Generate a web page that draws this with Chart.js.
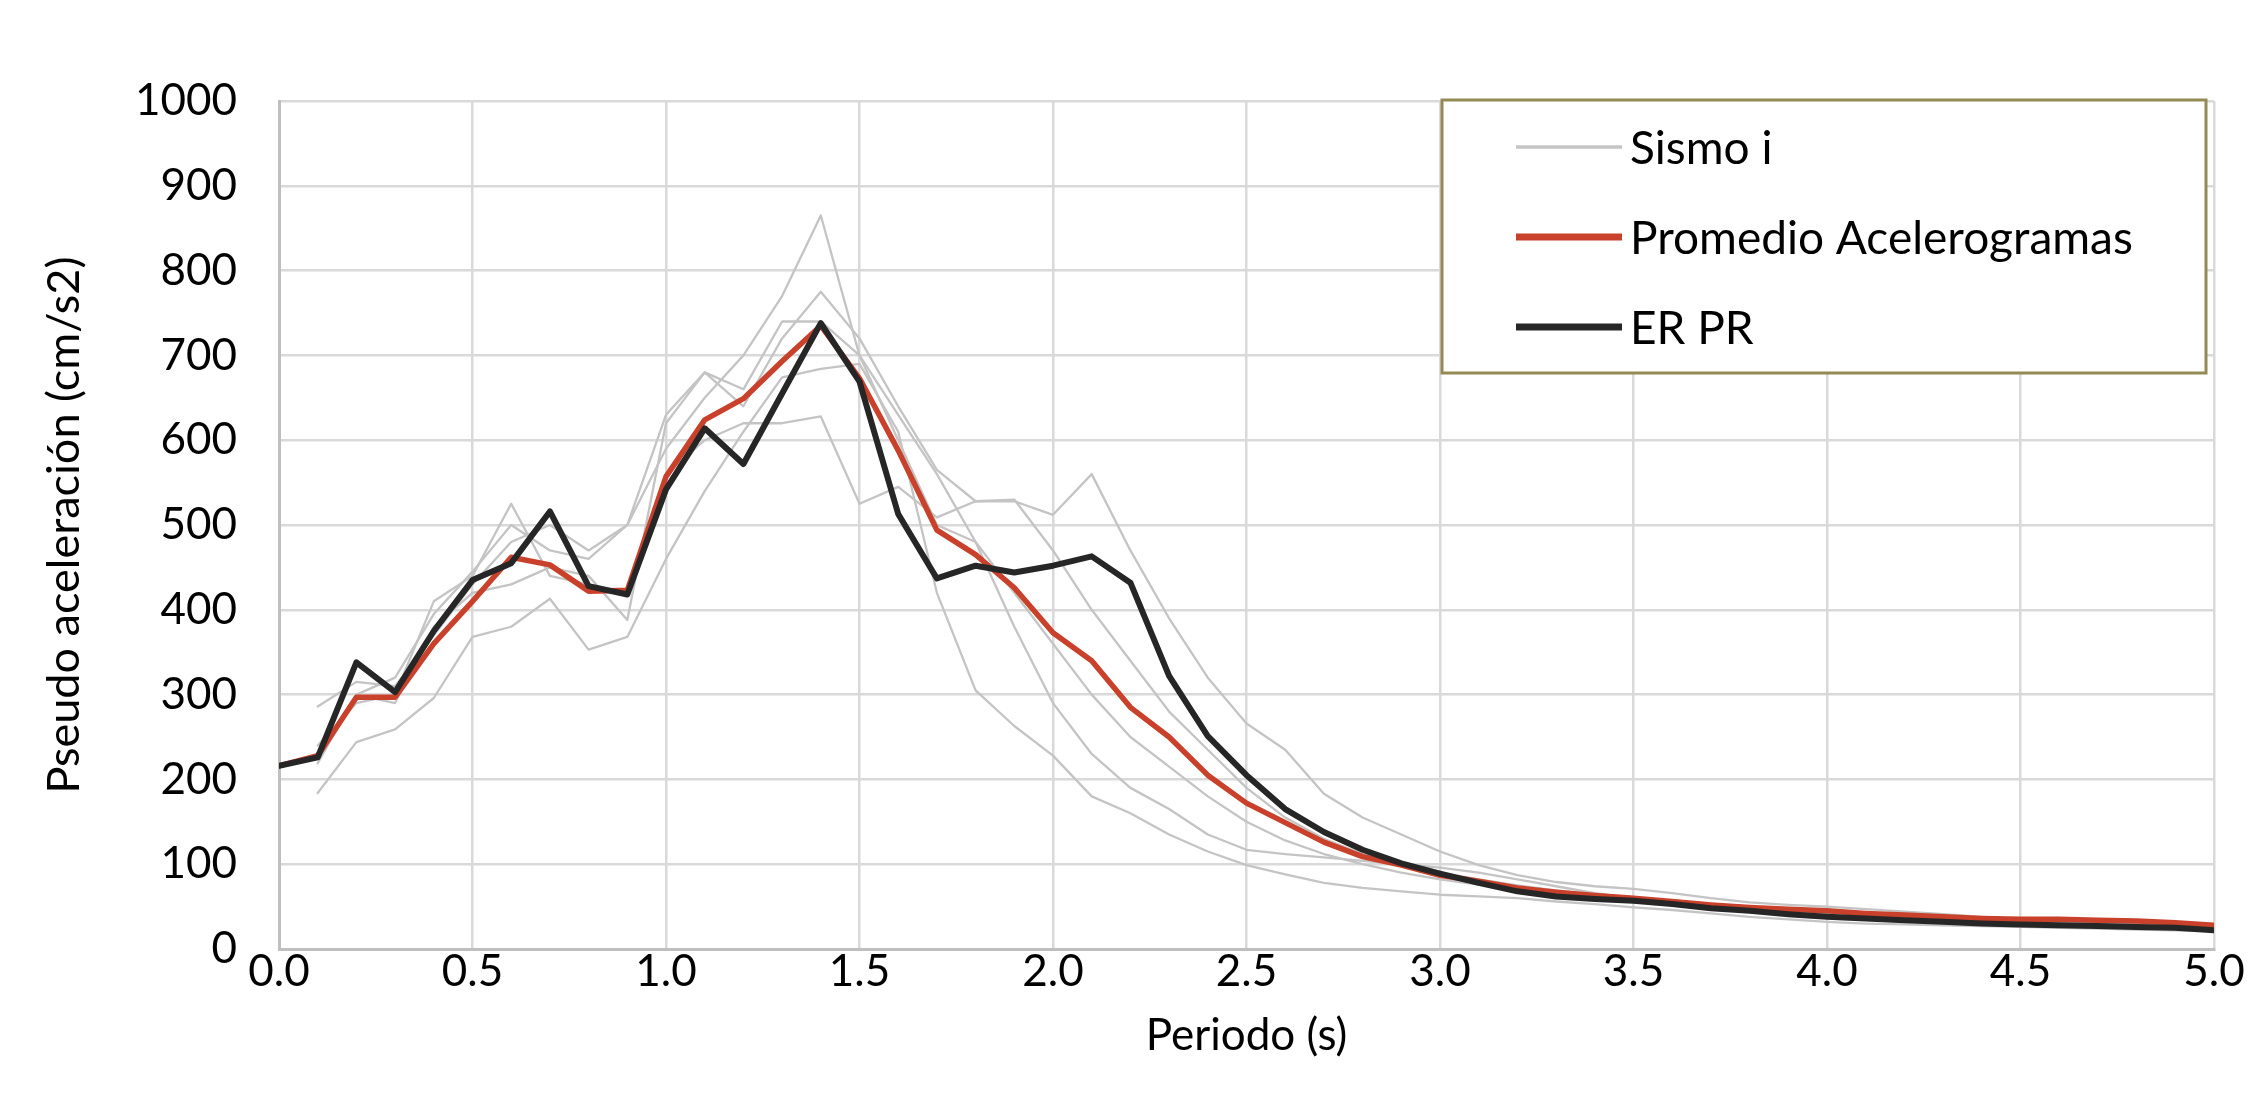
<!DOCTYPE html>
<html>
<head>
<meta charset="utf-8">
<title>Espectros de pseudo aceleración</title>
<script src="https://cdn.jsdelivr.net/npm/chart.js@4.4.1/dist/chart.umd.min.js"></script>
<style>
  html, body { margin: 0; padding: 0; background: #ffffff; }
  canvas { display: block; }
</style>
</head>
<body>
<canvas id="chart" width="2264" height="1119"></canvas>
<script>
// Periodo (s)
const periods = [
  0.0, 0.1, 0.2, 0.3, 0.4, 0.5, 0.6, 0.7, 0.8, 0.9,
  1.0, 1.1, 1.2, 1.3, 1.4, 1.5, 1.6, 1.7, 1.8, 1.9,
  2.0, 2.1, 2.2, 2.3, 2.4, 2.5, 2.6, 2.7, 2.8, 2.9,
  3.0, 3.1, 3.2, 3.3, 3.4, 3.5, 3.6, 3.7, 3.8, 3.9,
  4.0, 4.1, 4.2, 4.3, 4.4, 4.5, 4.6, 4.7, 4.8, 4.9, 5.0
];

// Espectro ER PR (cm/s2)
const erPR = [
  216, 226, 338, 303, 375, 435, 455, 516, 428, 418,
  542, 614, 572, 655, 738, 669, 513, 437, 452, 444,
  452, 463, 432, 322, 251, 205, 165, 138, 117, 101,
  89, 78, 68, 62, 59, 57, 53, 48, 45, 41,
  38, 36, 34, 32, 30, 29, 28, 27, 26, 25, 22
];

// Promedio de los acelerogramas (cm/s2)
const promedio = [
  216, 228, 297, 297, 360, 410, 462, 453, 422, 423,
  557, 624, 649, 693, 735, 673, 588, 494, 465, 426,
  373, 340, 285, 250, 205, 172, 149, 126, 109, 99,
  87, 80, 72, 67, 63, 60, 56, 52, 49, 47,
  45, 42, 40, 38, 36, 35, 35, 34, 33, 31, 28
];

// Espectros de cada sismo (cm/s2)
const sismo1 = [
  null, 225, 300, 320, 395, 445, 500, 470, 460, 500,
  590, 650, 700, 770, 865, 700, 600, 500, 480, 420,
  360, 300, 250, 215, 180, 150, 128, 112, 100, 90,
  82, 76, 70, 66, 62, 59, 55, 51, 48, 45,
  42, 40, 38, 36, 34, 32, 31, 30, 29, 28, 27
];
const sismo2 = [
  null, 286, 315, 310, 370, 430, 480, 500, 470, 500,
  630, 680, 640, 720, 775, 720, 640, 565, 528, 528,
  512, 560, 470, 390, 320, 266, 235, 183, 155, 135,
  115, 99, 87, 79, 74, 71, 66, 60, 55, 52,
  50, 47, 44, 41, 38, 35, 33, 31, 29, 27, 25
];
const sismo3 = [
  null, 240, 290, 300, 410, 440, 525, 440, 430, 420,
  560, 600, 620, 620, 628, 525, 545, 509, 528, 530,
  470, 400, 340, 280, 235, 190, 155, 130, 112, 100,
  90, 82, 75, 69, 64, 60, 56, 52, 49, 46,
  44, 42, 40, 38, 36, 34, 33, 32, 31, 30, 29
];
const sismo4 = [
  null, 184, 244, 259, 296, 368, 380, 413, 353, 368,
  460, 540, 610, 674, 684, 690, 610, 420, 305, 263,
  228, 180, 160, 135, 115, 99, 88, 78, 72, 68,
  64, 62, 60, 56, 53, 49, 46, 42, 38, 35,
  32, 30, 29, 28, 27, 26, 25, 24, 23, 22, 21
];
const sismo5 = [
  null, 219, 300, 290, 380, 420, 430, 450, 440, 388,
  620, 680, 660, 740, 740, 700, 630, 560, 480, 380,
  290, 230, 190, 165, 135, 117, 112, 108, 104, 100,
  96, 90, 82, 74, 66, 60, 55, 51, 48, 45,
  43, 41, 39, 37, 35, 33, 31, 29, 27, 25, 23
];

// Marcas de los ejes
const xTickValues = [0.0, 0.5, 1.0, 1.5, 2.0, 2.5, 3.0, 3.5, 4.0, 4.5, 5.0];
const yTickValues = [0, 100, 200, 300, 400, 500, 600, 700, 800, 900, 1000];

const legendLabels = ['Sismo i', 'Promedio Acelerogramas', 'ER PR'];

const FONT = 'Lato, "Open Sans", "Noto Sans", sans-serif';
const GRAY = '#C4C4C4';
const RED = '#C9412B';
const BLACK = '#262626';

function toPoints(values) {
  const pts = [];
  values.forEach((v, i) => { if (v !== null) pts.push({ x: periods[i], y: v }); });
  return pts;
}

const sismos = [sismo1, sismo2, sismo3, sismo4, sismo5];

const datasets = [
  { label: legendLabels[2], data: toPoints(erPR), borderColor: BLACK, borderWidth: 6, order: 0 },
  { label: legendLabels[1], data: toPoints(promedio), borderColor: RED, borderWidth: 5.5, order: 1 }
].concat(sismos.map(s => ({
  label: legendLabels[0], data: toPoints(s), borderColor: GRAY, borderWidth: 2.3, order: 2
})));

// Recuadro de leyenda dentro del área de trazado
const legendBox = {
  id: 'legendBox',
  afterDraw(chart) {
    const ctx = chart.ctx;
    const area = chart.chartArea;
    const x0 = area.right - 772, y0 = area.top - 1, w = 764, h = 273;
    ctx.save();
    ctx.fillStyle = '#ffffff';
    ctx.fillRect(x0, y0, w, h);
    ctx.strokeStyle = '#948A54';
    ctx.lineWidth = 3;
    ctx.strokeRect(x0, y0, w, h);
    const entries = [
      { text: legendLabels[0], color: GRAY, width: 3.5 },
      { text: legendLabels[1], color: RED, width: 7 },
      { text: legendLabels[2], color: BLACK, width: 7 }
    ];
    ctx.font = '46px ' + FONT;
    ctx.textBaseline = 'middle';
    ctx.textAlign = 'left';
    entries.forEach((e, i) => {
      const cy = y0 + 47 + i * 90;
      ctx.beginPath();
      ctx.strokeStyle = e.color;
      ctx.lineWidth = e.width;
      ctx.moveTo(x0 + 74, cy);
      ctx.lineTo(x0 + 180, cy);
      ctx.stroke();
      ctx.fillStyle = '#000000';
      ctx.fillText(e.text, x0 + 188, cy + 2);
    });
    ctx.restore();
  }
};

new Chart(document.getElementById('chart'), {
  type: 'line',
  data: { datasets },
  options: {
    responsive: false,
    animation: false,
    devicePixelRatio: 1,
    layout: { padding: { left: 0, right: 50, top: 101, bottom: 0 } },
    elements: {
      point: { radius: 0 },
      line: { tension: 0, fill: false, borderCapStyle: 'round', borderJoinStyle: 'round' }
    },
    plugins: {
      legend: { display: false },
      tooltip: { enabled: false }
    },
    scales: {
      x: {
        type: 'linear',
        min: 0,
        max: 5,
        afterBuildTicks: s => { s.ticks = xTickValues.map(v => ({ value: v })); },
        afterFit: s => { s.height = 170; },
        grid: { color: '#D9D9D9', lineWidth: 2.5, drawTicks: false },
        border: { display: true, color: '#BFBFBF', width: 3 },
        ticks: {
          padding: -4,
          color: '#000000',
          font: { family: FONT, size: 44 },
          maxRotation: 0,
          callback: v => Number(v).toFixed(1)
        },
        title: {
          display: true,
          text: 'Periodo (s)',
          color: '#000000',
          font: { family: FONT, size: 44 },
          padding: { top: 0, bottom: 57 }
        }
      },
      y: {
        type: 'linear',
        min: 0,
        max: 1000,
        afterBuildTicks: s => { s.ticks = yTickValues.map(v => ({ value: v })); },
        afterFit: s => { s.width = 279; },
        grid: { color: '#D9D9D9', lineWidth: 2.5, drawTicks: false },
        border: { display: true, color: '#BFBFBF', width: 3 },
        ticks: {
          padding: 42,
          color: '#000000',
          font: { family: FONT, size: 44 },
          callback: v => String(v)
        },
        title: {
          display: true,
          text: 'Pseudo aceleración (cm/s2)',
          color: '#000000',
          font: { family: FONT, size: 45 },
          padding: { top: 37, bottom: 0 }
        }
      }
    }
  },
  plugins: [legendBox]
});
</script>
</body>
</html>
